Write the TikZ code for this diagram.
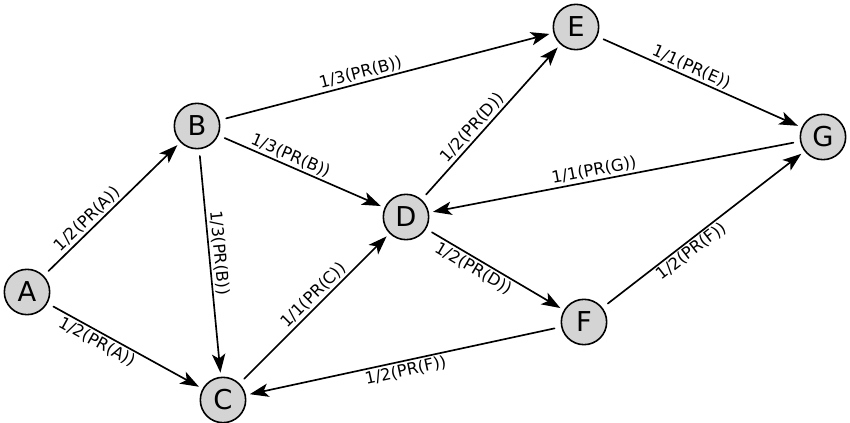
\documentclass[tikz,border=0pt]{standalone}
\usepackage{fontspec}
\setmainfont{DejaVu Sans}
\usetikzlibrary{arrows.meta}

\begin{document}
\begin{tikzpicture}[x=0.75pt, y=0.75pt, line cap=round,
		page/.style={circle, draw=black, line width=1.2pt, fill=black!17, minimum size=34pt, inner sep=0pt, font=\fontsize{20.5}{20.5}\selectfont},
		link/.style={line width=1.25pt, -{Stealth[length=14pt, width=10pt, inset=3.5pt]}, shorten <=5pt, shorten >=3pt},
		share/.style={sloped, inner sep=1.5pt, font=\fontsize{12.3}{12.3}\selectfont}]
		% Frame
		\useasboundingbox (0,0) rectangle (850,422);
		
		% Nodes
		\node[page] (A) at (27,130) {A};
		\node[page] (B) at (197,296) {B};
		\node[page] (C) at (223,22) {C};
		\node[page] (D) at (406,205) {D};
		\node[page] (E) at (576,395) {E};
		\node[page] (F) at (584,100) {F};
		\node[page] (G) at (823,285) {G};
		
		% Arrows
		\draw[link] (A) -- node[share, above, pos=0.37] {1/2(PR(A))} (B);
		\draw[link] (A) -- node[share, below, pos=0.35] {1/2(PR(A))} (C);
		%
		\draw[link] (B) -- node[share, above, pos=0.43] {1/3(PR(B))} (E);
		\draw[link] (B) -- node[share, above, pos=0.41] {1/3(PR(B))} (D);
		\draw[link] (B) -- node[share, above, pos=0.46] {1/3(PR(B))} (C);
		%
		\draw[link] (C) -- node[share, above, pos=0.54] {1/1(PR(C))} (D);
		%
		\draw[link] (D) -- node[share, above, pos=0.42] {1/2(PR(D))} (E);
		\draw[link] (D) -- node[share, below, pos=0.38] {1/2(PR(D))} (F);
		%
		\draw[link] (E) -- node[share, above, pos=0.44] {1/1(PR(E))} (G);
		%
		\draw[link] (G) -- node[share, above, pos=0.55] {1/1(PR(G))} (D);
		%
		\draw[link] (F) -- node[share, below, pos=0.41] {1/2(PR(F))} (G);
		\draw[link] (F) -- node[share, below, pos=0.50] {1/2(PR(F))} (C);
	\end{tikzpicture}
\end{document}
